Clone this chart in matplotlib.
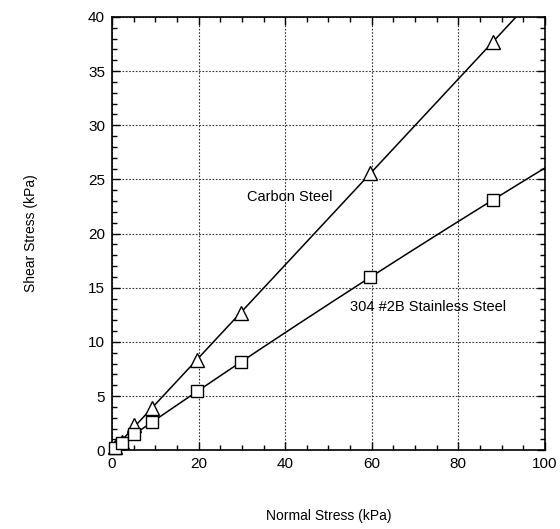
import numpy as np
import matplotlib
matplotlib.use("Agg")
import matplotlib.pyplot as plt
from matplotlib.ticker import MultipleLocator

plt.rcParams['font.family'] = ['Liberation Sans', 'DejaVu Sans']

normal_stress = [0.7, 2.3, 5.1, 9.3, 19.7, 29.8, 59.7, 88.0]
carbon_steel = [0.3, 0.8, 2.3, 3.9, 8.3, 12.7, 25.6, 37.7]
stainless_304 = [0.2, 0.7, 1.5, 2.6, 5.45, 8.1, 16.0, 23.1]

fig = plt.figure(figsize=(5.6, 5.29), dpi=100)
ax = fig.add_axes([0.2, 0.149, 0.773, 0.819])

x = np.array(normal_stress)
xf = np.linspace(0, 100, 200)
# Carbon steel: linear fit
c1 = np.polyfit(x, carbon_steel, 1)
ax.plot(xf, np.polyval(c1, xf), color='black', lw=1.1, zorder=3)
# Stainless: quadratic fit
c2 = np.polyfit(x, stainless_304, 2)
ax.plot(xf, np.polyval(c2, xf), color='black', lw=1.1, zorder=3)

ax.plot(normal_stress, carbon_steel, linestyle='none', marker='^', ms=10,
        mfc='white', mec='black', mew=1.0, zorder=4, clip_on=False)
ax.plot(normal_stress, stainless_304, linestyle='none', marker='s', ms=8.5,
        mfc='white', mec='black', mew=1.0, zorder=4, clip_on=False)

ax.set_xlim(0, 100)
ax.set_ylim(0, 40)
ax.xaxis.set_major_locator(MultipleLocator(20))
ax.xaxis.set_minor_locator(MultipleLocator(5))
ax.yaxis.set_major_locator(MultipleLocator(5))
ax.yaxis.set_minor_locator(MultipleLocator(1))
ax.tick_params(which='both', direction='in', top=True, right=True, labelsize=11, width=1.0)
ax.tick_params(which='major', length=6, pad=5)
ax.tick_params(which='minor', length=3.5)
ax.grid(True, which='major', linestyle=(0, (1.5, 1.5)), color='#333333', lw=0.8)
for s in ax.spines.values():
    s.set_linewidth(1.2)

ax.set_xlabel('Normal Stress (kPa)', fontsize=10, labelpad=27)
ax.set_ylabel('Shear Stress (kPa)', fontsize=10, labelpad=36)

ax.text(41, 23.4, 'Carbon Steel', fontsize=10.5, ha='center', va='center')
ax.text(73, 13.2, '304 #2B Stainless Steel', fontsize=10.5, ha='center', va='center')

fig.savefig('out.png', dpi=100)
